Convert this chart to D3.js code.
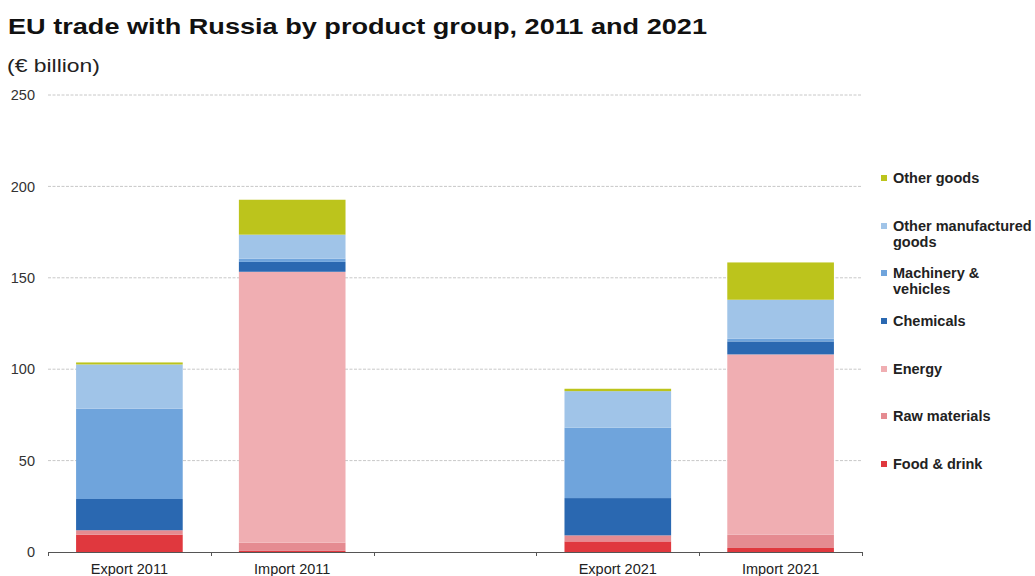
<!DOCTYPE html>
<html>
<head>
<meta charset="utf-8">
<script src="https://cdn.jsdelivr.net/npm/d3@7/dist/d3.min.js"></script>
<style>
  html, body { margin: 0; padding: 0; background: #fff; }
  svg { display: block; font-family: "Liberation Sans", Arial, sans-serif; }
</style>
</head>
<body>
<svg id="chart" width="1035" height="576"></svg>
<script>
// Categories along the x axis (an empty slot separates the two years)
const categories = ["Export 2011", "Import 2011", "", "Export 2021", "Import 2021"];

// Product groups, bottom of the stack first
const groups = ["Food & drink", "Raw materials", "Energy", "Chemicals",
                "Machinery & vehicles", "Other manufactured goods", "Other goods"];

// Values in € billion, one entry per category
const foodDrink        = [9.5, 0.6, null, 5.8, 2.2];
const rawMaterials     = [2.4, 4.5, null, 3.3, 7.3];
const energy           = [0.0, 148.2, null, 0.0, 98.6];
const chemicals        = [17.1, 5.4, null, 20.4, 7.1];
const machinery        = [49.4, 1.8, null, 38.5, 1.5];
const otherManufact    = [24.2, 13.1, null, 20.0, 21.3];
const otherGoods       = [1.1, 19.1, null, 1.3, 20.4];

const yTicks = [0, 50, 100, 150, 200, 250];

const colors = {
  "Food & drink": "#e0383e",
  "Raw materials": "#e58b91",
  "Energy": "#f0aeb2",
  "Chemicals": "#2a68b1",
  "Machinery & vehicles": "#6fa4dc",
  "Other manufactured goods": "#a0c4e8",
  "Other goods": "#bcc41c"
};

// Legend labels (wrapped as drawn), top to bottom
const legendItems = [
  { key: "Other goods", lines: ["Other goods"] },
  { key: "Other manufactured goods", lines: ["Other manufactured", "goods"] },
  { key: "Machinery & vehicles", lines: ["Machinery &", "vehicles"] },
  { key: "Chemicals", lines: ["Chemicals"] },
  { key: "Energy", lines: ["Energy"] },
  { key: "Raw materials", lines: ["Raw materials"] },
  { key: "Food & drink", lines: ["Food & drink"] }
];

const seriesArrays = [foodDrink, rawMaterials, energy, chemicals, machinery, otherManufact, otherGoods];
const table = categories.map((c, i) => {
  const row = { category: c };
  groups.forEach((g, k) => { row[g] = seriesArrays[k][i] || 0; });
  return row;
});

const svg = d3.select("#chart");
const plot = { left: 48, right: 862, top: 95, bottom: 552 };

const x = d3.scaleBand()
  .domain(categories.map((c, i) => i))
  .range([plot.left, plot.right])
  .paddingInner(0.345)
  .paddingOuter(0.1725);

const y = d3.scaleLinear().domain([0, 250]).range([plot.bottom, plot.top]);

// Title and unit
svg.append("text")
  .attr("x", 8).attr("y", 34)
  .attr("font-size", 21.5).attr("font-weight", "bold").attr("fill", "#111")
  .attr("textLength", 699).attr("lengthAdjust", "spacingAndGlyphs")
  .text("EU trade with Russia by product group, 2011 and 2021");
svg.append("text")
  .attr("x", 7).attr("y", 72)
  .attr("font-size", 19).attr("fill", "#222")
  .attr("textLength", 93).attr("lengthAdjust", "spacingAndGlyphs")
  .text("(€ billion)");

// Gridlines
svg.append("g")
  .selectAll("line")
  .data(yTicks.filter(t => t > 0))
  .join("line")
  .attr("x1", plot.left).attr("x2", plot.right)
  .attr("y1", d => y(d)).attr("y2", d => y(d))
  .attr("stroke", "#c8c8c8").attr("stroke-width", 1)
  .attr("stroke-dasharray", "3,1.5");

// Y axis labels
const yAxis = d3.axisLeft(y).tickValues(yTicks).tickSize(0).tickPadding(13);
const yg = svg.append("g").attr("transform", `translate(${plot.left},0)`).call(yAxis);
yg.select(".domain").remove();
yg.selectAll("text").attr("font-size", 14.5).attr("fill", "#333")
  .attr("font-family", "Liberation Sans, Arial, sans-serif");

// Stacked bars
const stack = d3.stack().keys(groups);
const stacked = stack(table);
svg.append("g")
  .selectAll("g")
  .data(stacked)
  .join("g")
  .attr("fill", d => colors[d.key])
  .selectAll("rect")
  .data(d => d.map((v, i) => ({ v, i })))
  .join("rect")
  .attr("x", d => x(d.i))
  .attr("width", x.bandwidth())
  .attr("y", d => y(d.v[1]))
  .attr("height", d => Math.max(0, y(d.v[0]) - y(d.v[1])));

// X axis line with ticks at category boundaries
const step = x.step();
const boundaries = d3.range(categories.length + 1).map(i => plot.left + i * step);
const xg = svg.append("g");
xg.append("line")
  .attr("x1", plot.left).attr("x2", plot.right)
  .attr("y1", plot.bottom + 0.5).attr("y2", plot.bottom + 0.5)
  .attr("stroke", "#555").attr("stroke-width", 1);
xg.selectAll("line.tick")
  .data(boundaries)
  .join("line")
  .attr("class", "tick")
  .attr("x1", d => Math.round(d) + 0.5).attr("x2", d => Math.round(d) + 0.5)
  .attr("y1", plot.bottom).attr("y2", plot.bottom + 4)
  .attr("stroke", "#555");
xg.selectAll("text")
  .data(categories)
  .join("text")
  .attr("x", (d, i) => x(i) + x.bandwidth() / 2)
  .attr("y", 574)
  .attr("text-anchor", "middle")
  .attr("font-size", 14.5).attr("fill", "#222")
  .text(d => d);

// Legend
const legendY = [178, 226, 273, 321, 369, 416, 464];
const lg = svg.append("g");
legendItems.forEach((item, k) => {
  const g = lg.append("g").attr("transform", `translate(881,${legendY[k]})`);
  g.append("rect").attr("x", 0).attr("y", -3).attr("width", 6).attr("height", 6)
    .attr("fill", colors[item.key]);
  item.lines.forEach((ln, j) => {
    g.append("text")
      .attr("x", 12).attr("y", 5 + j * 16)
      .attr("font-size", 14.5).attr("font-weight", "bold").attr("fill", "#222")
      .text(ln);
  });
});
</script>
</body>
</html>
